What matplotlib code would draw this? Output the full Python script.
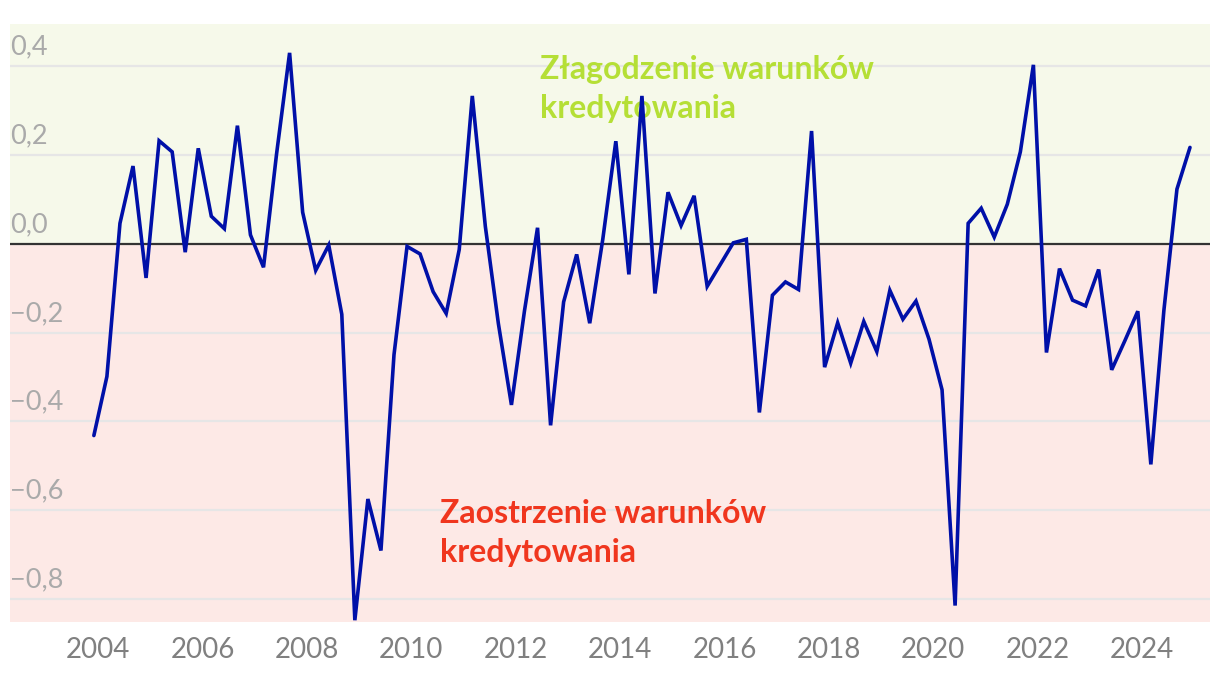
import matplotlib
matplotlib.use("Agg")
import matplotlib.pyplot as plt
import pandas as pd

plt.rcParams['font.family'] = ['Lato', 'DejaVu Sans']

# Quarterly index, 2003Q4 .. 2024Q4
quarters = pd.period_range('2003Q4', '2024Q4', freq='Q')
values = [
    -0.432, -0.299, 0.046, 0.175, -0.077, 0.232, 0.207, -0.019, 0.215, 0.062,
    0.034, 0.266, 0.020, -0.053, 0.202, 0.430, 0.071, -0.060, -0.003, -0.159,
    -0.848, -0.575, -0.691, -0.250, -0.006, -0.023, -0.108, -0.157, -0.013, 0.333,
    0.039, -0.180, -0.363, -0.151, 0.036, -0.409, -0.131, -0.024, -0.179, 0.010,
    0.231, -0.069, 0.333, -0.112, 0.116, 0.041, 0.108, -0.096, -0.047, 0.002,
    0.010, -0.380, -0.116, -0.086, -0.103, 0.254, -0.278, -0.178, -0.269, -0.175,
    -0.243, -0.105, -0.170, -0.129, -0.215, -0.329, -0.815, 0.046, 0.080, 0.015,
    0.089, 0.207, 0.403, -0.245, -0.056, -0.127, -0.140, -0.058, -0.284, -0.219,
    -0.152, -0.497, -0.150, 0.123, 0.217,
]
xtick_years = [2004, 2006, 2008, 2010, 2012, 2014, 2016, 2018, 2020, 2022, 2024]
ytick_values = [0.4, 0.2, 0.0, -0.2, -0.4, -0.6, -0.8]
ytick_labels = ['0,4', '0,2', '0,0', '\u22120,2', '\u22120,4', '\u22120,6', '\u22120,8']
label_ease = 'Złagodzenie warunków\nkredytowania'
label_tight = 'Zaostrzenie warunków\nkredytowania'

# decimal-year position: last month of each quarter
xpos = [q.year + (q.quarter * 3 - 1) / 12 for q in quarters]

W, H = 1220, 678
fig = plt.figure(figsize=(W / 100, H / 100), dpi=100)
ax = fig.add_axes([10 / W, (H - 622) / H, 1200 / W, 598 / H])

xmin, xmax = 2002.31, 2025.30
ymin, ymax = -0.852, 0.495
ax.set_xlim(xmin, xmax)
ax.set_ylim(ymin, ymax)

ax.axhspan(0, ymax, color='#f6f9ea', zorder=0, lw=0)
ax.axhspan(ymin, 0, color='#fde9e6', zorder=0, lw=0)

for v in ytick_values:
    if v != 0:
        ax.axhline(v, color='#e6e6e6', lw=1.6, zorder=1)
ax.axhline(0, color='#333333', lw=1.6, zorder=2)

ax.plot(xpos, values, color='#0010a8', lw=2.6, zorder=3,
        solid_joinstyle='miter', solid_capstyle='round')

trans = ax.get_yaxis_transform()
for v, lab in zip(ytick_values, ytick_labels):
    ax.text(0.0, v + 0.015, lab, transform=trans, ha='left', va='bottom',
            fontsize=19.5, color='#aaaaaa', zorder=4)

ax.set_xticks(xtick_years)
ax.set_xticklabels([str(y) for y in xtick_years])
ax.tick_params(axis='x', length=0, labelsize=20, labelcolor='#808080', pad=11)
ax.set_yticks([])
for s in ax.spines.values():
    s.set_visible(False)

ax.text(2012.46, 0.425, label_ease, ha='left', va='top', fontsize=23,
        fontweight='bold', color='#b5df36', linespacing=1.4, zorder=2.5)
ax.text(2010.55, -0.575, label_tight, ha='left', va='top', fontsize=23,
        fontweight='bold', color='#f0361e', linespacing=1.4, zorder=2.5)

fig.savefig('out.png', dpi=100, facecolor='white')
